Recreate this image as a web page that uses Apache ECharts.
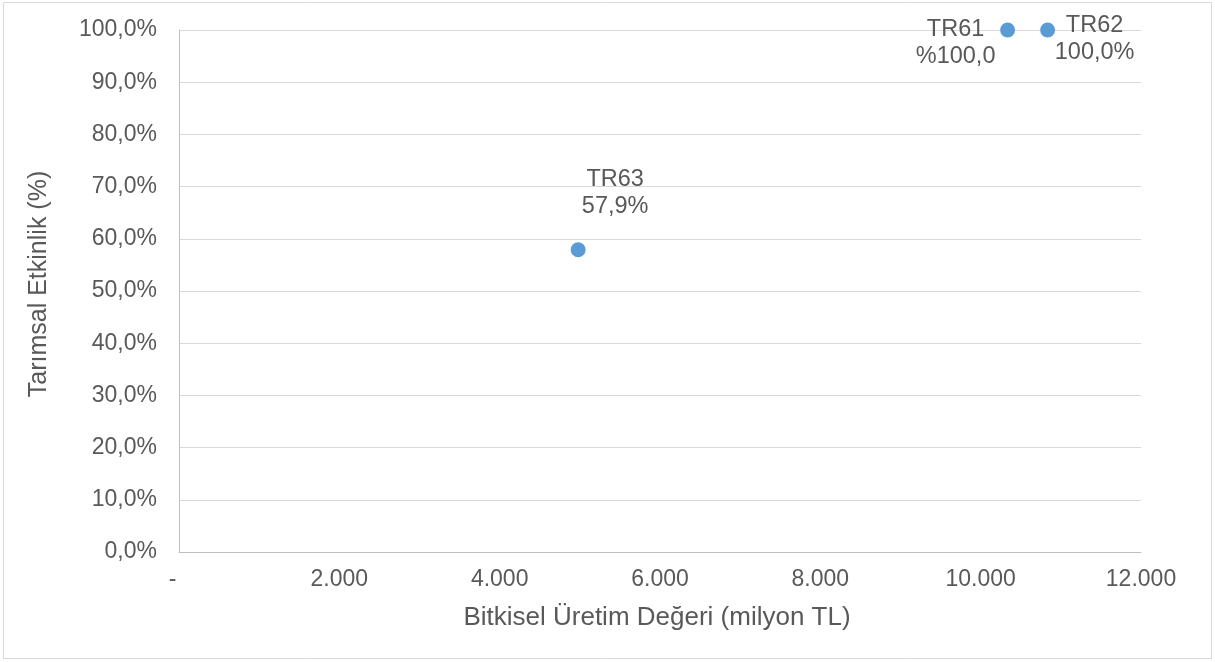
<!DOCTYPE html>
<html>
<head>
<meta charset="utf-8">
<script src="https://cdn.jsdelivr.net/npm/echarts@6/dist/echarts.min.js"></script>
<style>
html,body{margin:0;padding:0;background:#fff;}
#chart{width:1215px;height:662px;}
</style>
</head>
<body>
<div id="chart"></div>
<script>
const names = ['TR61', 'TR62', 'TR63'];
const xValues = [10336, 10835, 4979];
const yValues = [100.0, 100.0, 57.9];
const pointLabels = ['TR61\n%100,0', 'TR62\n100,0%', 'TR63\n57,9%'];
const labelOffsets = [[-52, 13], [47, 9], [37, -57]];

const fontFamily = 'Liberation Sans, Arial, sans-serif';
const textColor = '#595959';

const chart = echarts.init(document.getElementById('chart'), null, {renderer: 'canvas'});

const data = names.map((n, i) => ({
  name: n,
  value: [xValues[i], yValues[i]],
  label: {
    show: true,
    position: 'inside',
    offset: labelOffsets[i],
    formatter: pointLabels[i],
    align: 'center',
    verticalAlign: 'middle',
    color: textColor,
    fontSize: 23.5,
    lineHeight: 27,
    fontFamily: fontFamily
  }
}));

chart.setOption({
  animation: false,
  backgroundColor: '#ffffff',
  graphic: [{
    type: 'rect',
    shape: {x: 3.5, y: 2.5, width: 1208, height: 656},
    style: {fill: 'none', stroke: '#d9d9d9', lineWidth: 1},
    silent: true
  }],
  grid: {left: 179, right: 74, top: 30, bottom: 110, containLabel: false},
  xAxis: {
    type: 'value',
    min: 0, max: 12000, interval: 2000,
    name: 'Bitkisel Üretim Değeri (milyon TL)',
    nameLocation: 'middle',
    nameGap: 53,
    nameTextStyle: {color: textColor, fontSize: 26, fontFamily: fontFamily, padding: [0, 6, 0, 0]},
    axisLine: {show: true, lineStyle: {color: '#bfbfbf', width: 1}},
    axisTick: {show: false},
    splitLine: {show: false},
    axisLabel: {
      color: textColor, fontSize: 23, fontFamily: fontFamily, margin: 16,
      formatter: function (v) {
        if (v === 0) return '-  ';
        return v.toString().replace(/\B(?=(\d{3})+(?!\d))/g, '.');
      }
    }
  },
  yAxis: {
    type: 'value',
    min: 0, max: 100, interval: 10,
    name: 'Tarımsal Etkinlik (%)',
    nameLocation: 'middle',
    nameGap: 127,
    nameTextStyle: {color: textColor, fontSize: 25, fontFamily: fontFamily, padding: [0, 0, 0, 14]},
    axisLine: {show: true, lineStyle: {color: '#bfbfbf', width: 1}},
    axisTick: {show: false},
    splitLine: {show: true, lineStyle: {color: '#d9d9d9', width: 1}},
    axisLabel: {
      color: textColor, fontSize: 23, fontFamily: fontFamily, margin: 22,
      formatter: function (v) { return v.toFixed(1).replace('.', ',') + '%'; }
    }
  },
  series: [{
    type: 'scatter',
    symbol: 'circle',
    symbolSize: 15,
    itemStyle: {color: '#5b9bd5', opacity: 1},
    data: data
  }]
});
</script>
</body>
</html>
